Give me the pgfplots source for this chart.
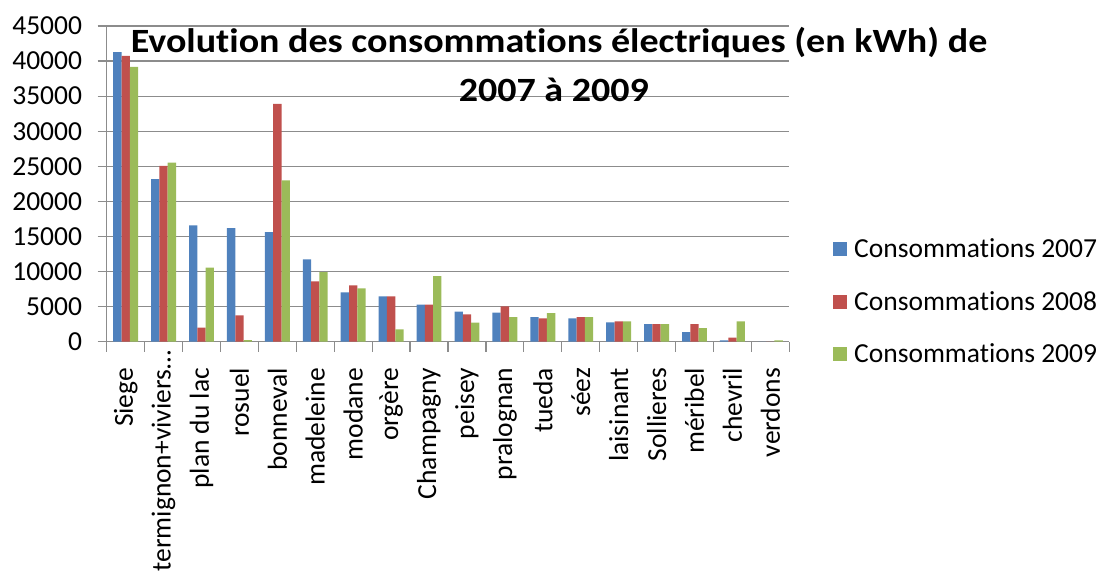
\documentclass[border=0pt]{standalone}
\usepackage{fontspec}
\setmainfont{Carlito}[Ligatures=NoCommon]
\usepackage{graphicx}
\usepackage{pgfplots}
\pgfplotsset{compat=1.18}
\definecolor{c07}{HTML}{4F81BD}
\definecolor{c08}{HTML}{C0504D}
\definecolor{c09}{HTML}{9BBB59}
\definecolor{gridc}{HTML}{8C8C8C}
\newcommand{\lbl}{\fontsize{27.5}{32}\selectfont}
\newcommand{\ttl}{\fontsize{34}{40}\selectfont\bfseries}
\begin{document}
\begin{tikzpicture}
\useasboundingbox (0,0) rectangle (1097pt,574pt);
\begin{axis}[
  at={(106.7pt,232.3pt)}, anchor=south west,
  scale only axis, width=682.6pt, height=315.7pt,
  clip=false,
  ybar=0pt, bar width=8.3pt,
  xmin=-0.5, xmax=17.5, ymin=0, ymax=45000,
  axis x line*=bottom, axis y line*=left,
  axis line style={draw=gridc, line width=1.2pt, -},
  ymajorgrids, grid style={draw=gridc, line width=1.2pt},
  xtick={0,...,17},
  xticklabels={Siege,{termignon+viviers…\hspace*{-17pt}},plan du lac,rosuel,bonneval,madeleine,modane,orgère,Champagny,peisey,pralognan,tueda,séez,laisinant,Sollieres,méribel,chevril,verdons},
  minor xtick={-0.5,0.5,...,17.5},
  major x tick style={draw=none},
  minor x tick style={draw=gridc, line width=1.2pt},
  minor tick length=10pt,
  ytick={0,5000,...,45000},
  scaled y ticks=false,
  major y tick style={draw=gridc, line width=1.2pt},
  major tick length=9pt,
  tick align=outside,
  xtick pos=bottom, ytick pos=left,
  /pgf/number format/assume math mode=true,
  /pgf/number format/1000 sep={},
  tick label style={font=\lbl},
  yticklabel style={inner sep=0pt, xshift=-15.5pt},
  xticklabel style={rotate=90, anchor=east, inner sep=0pt, xshift=-17pt},
  legend style={at={(1.064,0.127)}, anchor=west, draw=none, fill=none, font=\lbl,
    row sep=32pt, inner sep=0pt, nodes={inner sep=0pt}},
  legend cell align=left,
  legend image code/.code={\fill[#1] (0pt,-7pt) rectangle (14pt,7pt);},
  legend columns=1,
]
\addplot[fill=c07, draw=none] coordinates {
(0,41280) (1,23180) (2,16580) (3,16200) (4,15630) (5,11730) (6,7030) (7,6460) (8,5270)
(9,4275) (10,4130) (11,3515) (12,3325) (13,2755) (14,2520) (15,1380) (16,190) (17,0)};
\addplot[fill=c08, draw=none] coordinates {
(0,40755) (1,25080) (2,2000) (3,3750) (4,33900) (5,8600) (6,8030) (7,6460) (8,5270)
(9,3895) (10,5035) (11,3325) (12,3515) (13,2900) (14,2520) (15,2520) (16,570) (17,0)};
\addplot[fill=c09, draw=none] coordinates {
(0,39190) (1,25510) (2,10545) (3,240) (4,22990) (5,9930) (6,7600) (7,1760) (8,9360)
(9,2710) (10,3515) (11,4085) (12,3515) (13,2900) (14,2520) (15,1950) (16,2900) (17,190)};
\legend{\hspace{7pt}Consommations 2007,\hspace{7pt}Consommations 2008,\hspace{7pt}Consommations 2009}
\node[anchor=base, font=\ttl, inner sep=0pt] at (axis description cs:0.6626,0.9145) {\scalebox{1.118}[1]{Evolution des consommations électriques (en kWh) de}};
\node[anchor=base, font=\ttl, inner sep=0pt] at (axis description cs:0.655,0.7593) {\scalebox{1.118}[1]{2007 à 2009}};
\end{axis}
\end{tikzpicture}
\end{document}
